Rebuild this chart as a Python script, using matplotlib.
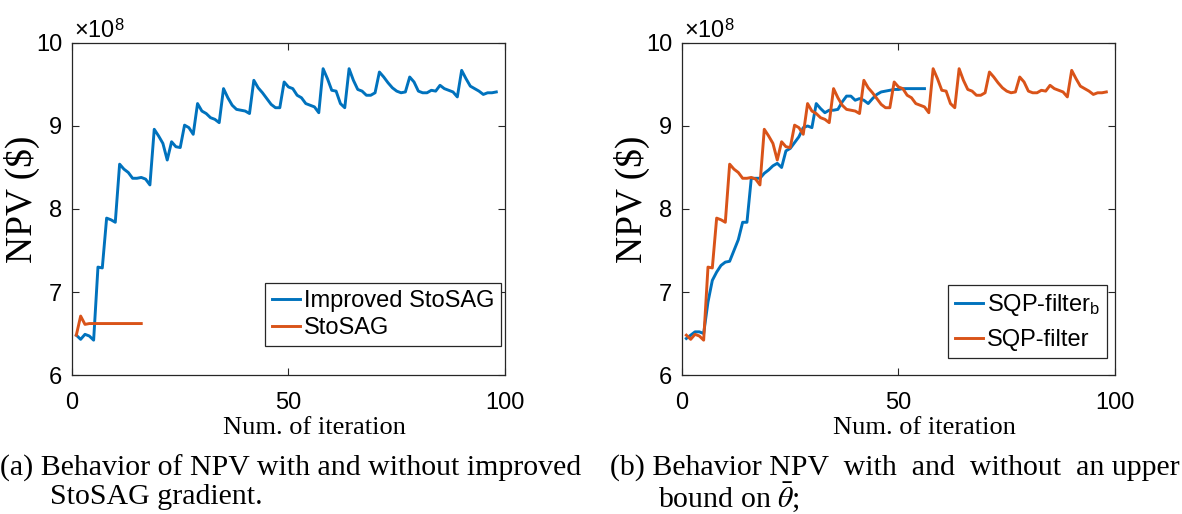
import matplotlib
matplotlib.use('Agg')
import matplotlib.pyplot as plt
import numpy as np

# NPV (x 1e8) per iteration
npv_improved = [6.48, 6.43, 6.49, 6.47, 6.42, 7.30, 7.29, 7.89, 7.87, 7.84,
                8.54, 8.48, 8.44, 8.37, 8.37, 8.38, 8.36, 8.29, 8.96, 8.88,
                8.79, 8.59, 8.81, 8.75, 8.74, 9.01, 8.98, 8.90, 9.27, 9.18,
                9.15, 9.10, 9.08, 9.04, 9.45, 9.34, 9.25, 9.20, 9.19, 9.18,
                9.15, 9.55, 9.46, 9.40, 9.33, 9.26, 9.22, 9.22, 9.53, 9.47,
                9.45, 9.37, 9.34, 9.27, 9.25, 9.23, 9.16, 9.69, 9.57, 9.43,
                9.42, 9.27, 9.22, 9.69, 9.55, 9.44, 9.42, 9.37, 9.37, 9.40,
                9.65, 9.59, 9.52, 9.46, 9.42, 9.40, 9.41, 9.59, 9.53, 9.42,
                9.40, 9.40, 9.43, 9.42, 9.49, 9.45, 9.43, 9.41, 9.35, 9.67,
                9.57, 9.48, 9.45, 9.42, 9.38, 9.40, 9.40, 9.41]
npv_stosag = [6.48, 6.71, 6.61, 6.62, 6.62, 6.62, 6.62, 6.62, 6.62, 6.62,
              6.62, 6.62, 6.62, 6.62, 6.62, 6.62]
npv_sqp_b = [6.44, 6.48, 6.52, 6.52, 6.50, 6.88, 7.14, 7.24, 7.32, 7.36,
             7.37, 7.50, 7.63, 7.84, 7.84, 8.37, 8.37, 8.37, 8.43, 8.47,
             8.52, 8.55, 8.50, 8.70, 8.73, 8.80, 8.87, 8.98, 9.00, 8.98,
             9.27, 9.21, 9.16, 9.19, 9.19, 9.20, 9.29, 9.36, 9.36, 9.31,
             9.33, 9.31, 9.27, 9.33, 9.38, 9.41, 9.42, 9.43, 9.44, 9.44,
             9.45, 9.45, 9.45, 9.45, 9.45, 9.45]

blue = '#0072BD'
orange = '#D95319'

plt.rcParams['mathtext.fontset'] = 'custom'
plt.rcParams['mathtext.rm'] = 'Liberation Sans'
plt.rcParams['mathtext.it'] = 'Liberation Serif:italic'

fig = plt.figure(figsize=(11.82, 5.14), dpi=100)
ax1 = fig.add_axes([0.0609, 0.2704, 0.3663, 0.646])
ax2 = fig.add_axes([0.577, 0.2704, 0.3663, 0.646])

ax1.plot(np.arange(1, len(npv_improved) + 1), npv_improved, color=blue, lw=2.1, label='Improved StoSAG')
ax1.plot(np.arange(1, len(npv_stosag) + 1), npv_stosag, color=orange, lw=2.1, label='StoSAG')
ax2.plot(np.arange(1, len(npv_sqp_b) + 1), npv_sqp_b, color=blue, lw=2.1, label='SQP-filter$_{\\mathrm{b}}$')
ax2.plot(np.arange(1, len(npv_improved) + 1), npv_improved, color=orange, lw=2.1, label='SQP-filter')

for ax in (ax1, ax2):
    ax.set_xlim(0, 100)
    ax.set_ylim(6, 10)
    ax.set_xticks([0, 50, 100])
    ax.set_yticks([6, 7, 8, 9, 10])
    ax.tick_params(direction='in', top=True, right=True, length=5, width=0.8,
                   colors='#262626', labelsize=17)
    ax.tick_params(axis='x', pad=12)
    ax.tick_params(axis='y', pad=7)
    for lab in ax.get_xticklabels() + ax.get_yticklabels():
        lab.set_family('Liberation Sans')
        lab.set_color('black')
    for s in ax.spines.values():
        s.set_color('#262626')
        s.set_linewidth(0.9)
    ax.set_xlabel('Num. of iteration', family='Liberation Serif', fontsize=19)
    ax.xaxis.set_label_coords(0.56, -0.125)
    ax.set_ylabel('NPV ($)', family='Liberation Serif', fontsize=27)
    ax.yaxis.set_label_coords(-0.075, 0.53)
    ax.text(0.005, 1.0, '×10$^{8}$', transform=ax.transAxes, family='Liberation Sans',
            fontsize=17, ha='left', va='bottom')

leg1 = ax1.legend(loc='lower right', bbox_to_anchor=(0.991, 0.087), borderaxespad=0,
                  prop={'family': 'Liberation Sans', 'size': 17}, fancybox=False,
                  edgecolor='#262626', handlelength=1.2, handletextpad=0.15,
                  borderpad=0.3, labelspacing=0.2, framealpha=1)
leg2 = ax2.legend(loc='lower right', bbox_to_anchor=(0.981, 0.051), borderaxespad=0,
                  prop={'family': 'Liberation Sans', 'size': 17}, fancybox=False,
                  edgecolor='#262626', handlelength=1.2, handletextpad=0.15,
                  borderpad=0.3, labelspacing=0.45, framealpha=1)
for leg in (leg1, leg2):
    leg.get_frame().set_linewidth(0.9)

# captions
cap = dict(family='Liberation Serif', fontsize=21.5, va='center')
fig.text(0.0, 1 - 468 / 514, '(a) Behavior of NPV with and without improved', **cap)
fig.text(50 / 1182, 1 - 497 / 514, 'StoSAG gradient.', **cap)
fig.text(610 / 1182, 1 - 468 / 514, '(b) Behavior NPV  with  and  without  an upper', **cap)
fig.text(658 / 1182, 1 - 497 / 514, 'bound on $\\bar{\\theta}$;', math_fontfamily='stix', **cap)

plt.savefig('out.png', dpi=100)
